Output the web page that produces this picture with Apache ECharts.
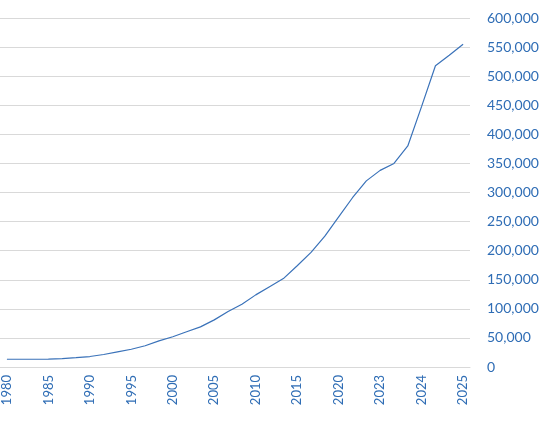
<!DOCTYPE html>
<html>
<head>
<meta charset="utf-8">
<script src="https://cdn.jsdelivr.net/npm/echarts@6/dist/echarts.min.js"></script>
<style>
  html, body { margin: 0; padding: 0; background: #fff; }
  #chart { width: 555px; height: 421px; }
</style>
</head>
<body>
<div id="chart"></div>
<script>
// categories along the x axis (only every 3rd one is labelled)
var years = [
  '1980', '1981', '1983', '1985', '1986', '1988', '1990', '1991', '1993',
  '1995', '1996', '1998', '2000', '2001', '2003', '2005', '2006', '2008',
  '2010', '2011', '2013', '2015', '2016', '2018', '2020', '2021', '2022',
  '2023', '2023-05', '2023-09', '2024', '2024-05', '2024-09', '2025'
];

// values
var values = [
  13300, 13300, 13300, 13400, 14500, 16000, 18000, 21500, 26000,
  30500, 36500, 45000, 52000, 60500, 69000, 81000, 95500, 108000,
  124000, 138000, 152000, 174000, 197000, 225000, 258000, 291000, 320000,
  338000, 350000, 380000, 448000, 518000, 536000, 555000
];

var yTicks = { min: 0, max: 600000, interval: 50000 };

var blue = '#2f6db5';
var labelFont = 'Lato, "Open Sans", sans-serif';

var chart = echarts.init(document.getElementById('chart'));
chart.setOption({
  animation: false,
  grid: { left: 0, right: 85, top: 18, bottom: 54 },
  xAxis: {
    type: 'category',
    data: years,
    boundaryGap: true,
    axisLine: { lineStyle: { color: '#d9d9d9', width: 1 } },
    axisTick: { show: false },
    axisLabel: {
      interval: 2,
      rotate: 90,
      margin: 8,
      padding: [6, 0, 0, 0],
      color: blue,
      fontSize: 13,
      fontFamily: labelFont
    }
  },
  yAxis: {
    type: 'value',
    position: 'right',
    min: yTicks.min,
    max: yTicks.max,
    interval: yTicks.interval,
    axisLine: { show: false },
    axisTick: { show: false },
    splitLine: { lineStyle: { color: '#d9d9d9', width: 1 } },
    axisLabel: {
      margin: 17,
      color: blue,
      fontSize: 14,
      fontFamily: labelFont,
      formatter: function (v) { return v.toLocaleString('en-US'); }
    }
  },
  series: [{
    type: 'line',
    data: values,
    symbol: 'none',
    lineStyle: { color: '#3a72b9', width: 1.2 }
  }]
});
</script>
</body>
</html>
